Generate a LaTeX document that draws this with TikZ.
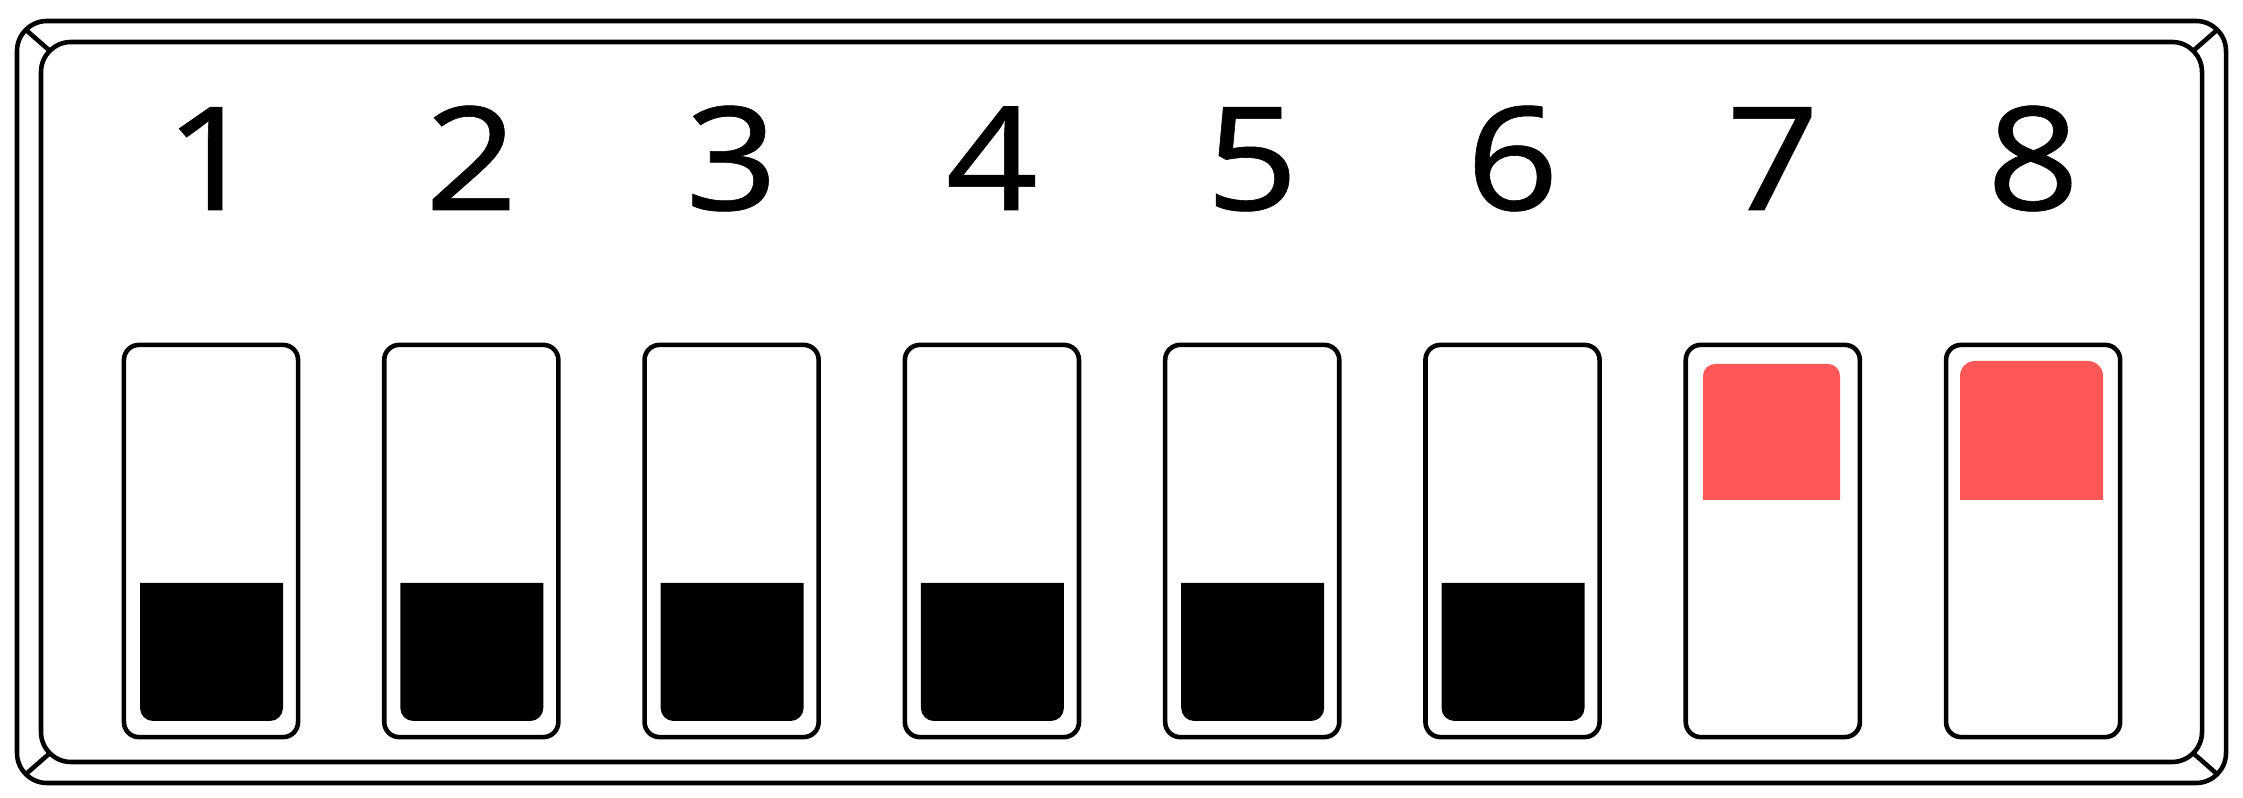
\documentclass[tikz,border=0pt]{standalone}
\usepackage{fontspec}
\setmainfont{Noto Sans}
\newfontfamily\digitfont[FakeStretch=1.12,FakeBold=0.4]{Noto Sans}
\usepackage{tikz}
\definecolor{leverred}{RGB}{255,87,87}

\begin{document}
\begin{tikzpicture}[
  x=0.01cm, y=-0.01cm,
  line width=1.3pt,
  frame/.style={draw, rounded corners=0.3cm}, % outer casing
  switchbox/.style={draw, rectangle, rounded corners=0.15cm,
    minimum width=1.74cm, minimum height=3.92cm, inner sep=0pt},
  digit/.style={anchor=base, inner sep=0pt, font=\digitfont\fontsize{41}{41}\selectfont}
]
  \useasboundingbox (0,0) rectangle (2243,798);

  % casing
  \draw[frame] (17,21) rectangle (2226,783);
  \draw[frame] (41,42) rectangle (2202,762);
  \draw (25.8,29.8) -- (49.8,50.8);
  \draw (2217.2,29.8) -- (2193.2,50.8);
  \draw (25.8,774.2) -- (49.8,753.2);
  \draw (2217.2,774.2) -- (2193.2,753.2);

  % switches and numbers
  \foreach \i in {1,...,8} {
    \pgfmathsetmacro\cx{211+260.3*(\i-1)}
    \node[switchbox] (sw\i) at (\cx,541) {};
    \node[digit] (num\i) at (\cx,210) {\i};
  }

  % levers down
  \foreach \i in {1,...,6} {
    \pgfmathsetmacro\cx{211.5+260.3*(\i-1)}
    \fill (\cx-71.5,583) [rounded corners=0.13cm] -- (\cx-71.5,721)
      -- (\cx+71.5,721) [sharp corners] -- (\cx+71.5,583) -- cycle;
  }

  % levers up
  \fill[leverred] (1703,500) [rounded corners=0.12cm] -- (1703,364)
    -- (1840,364) [sharp corners] -- (1840,500) -- cycle;
  \fill[leverred] (1960,500) [rounded corners=0.15cm] -- (1960,361)
    -- (2103,361) [sharp corners] -- (2103,500) -- cycle;
\end{tikzpicture}
\end{document}
